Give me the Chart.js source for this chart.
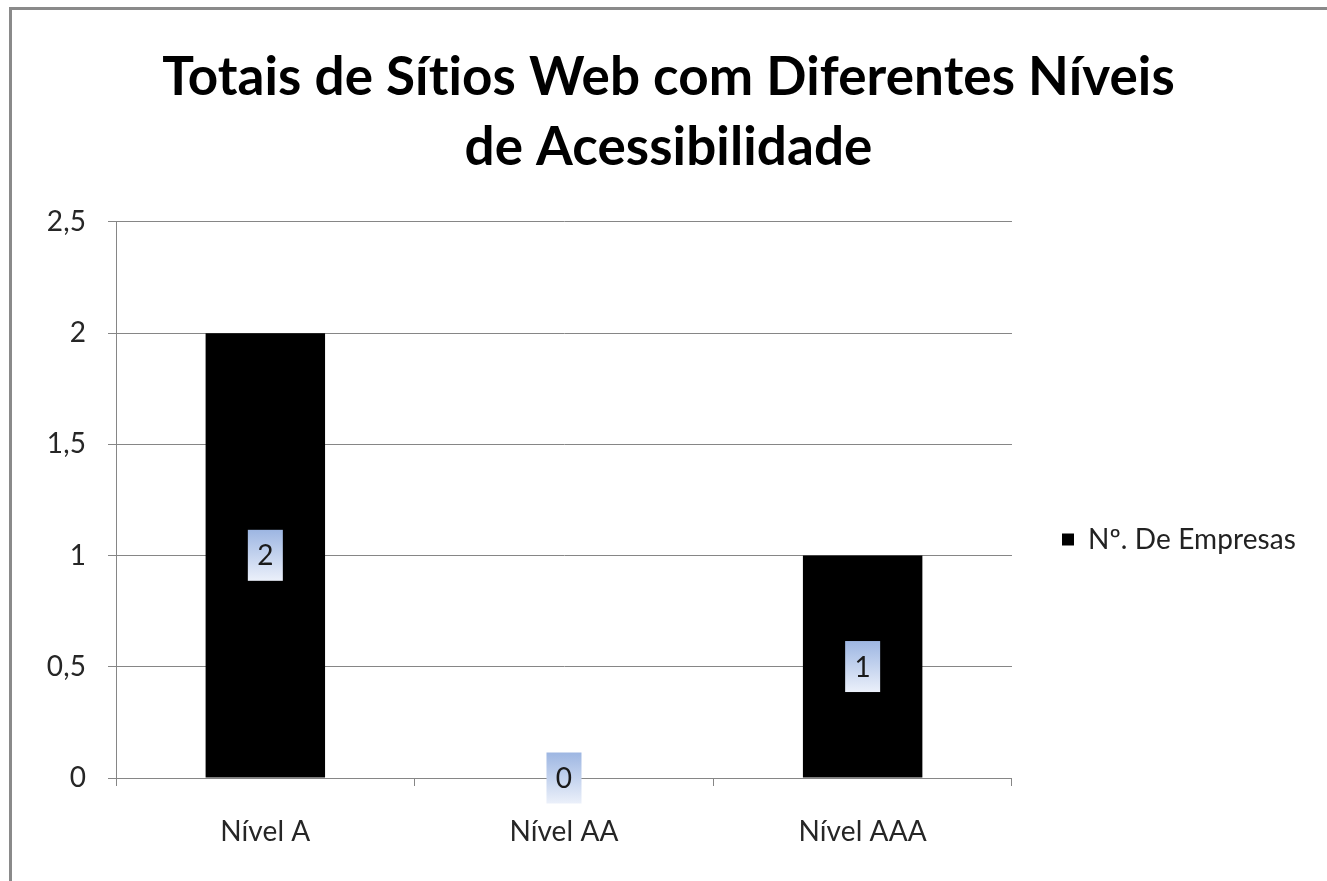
<!DOCTYPE html>
<html><head><meta charset="utf-8">
<script src="https://cdn.jsdelivr.net/npm/chart.js@4.4.0/dist/chart.umd.min.js"></script>
<style>
html,body{margin:0;padding:0;background:#fff;overflow:hidden;}
#wrap{position:relative;width:1327px;height:881px;}
#frame{position:absolute;left:9px;top:7px;right:-5px;bottom:-5px;border-top:3px solid #8a8a8a;border-left:3px solid #8a8a8a;pointer-events:none;}
canvas{position:absolute;left:0;top:0;}
</style></head>
<body><div id="wrap"><canvas id="c" width="1327" height="881"></canvas><div id="frame"></div></div>
<script>
const categories = ['Nível A', 'Nível AA', 'Nível AAA'];
const seriesName = 'Nº. De Empresas';
const seriesValues = [2, 0, 1];
const yTickValues = [0, 0.5, 1, 1.5, 2, 2.5];
const yTickLabels = ['0', '0,5', '1', '1,5', '2', '2,5'];
const titleLines = ['Totais de Sítios Web com Diferentes Níveis', 'de Acessibilidade'];

const FONT = 'Lato';
const GRID = '#868686';

const noLigatures = {
  id: 'noLigatures',
  beforeUpdate(chart) { chart.ctx.letterSpacing = '0.1px'; },
  beforeDraw(chart) { chart.ctx.letterSpacing = '0.1px'; }
};

// let the title centre on the whole chart width (the legend reserve sits on the right)
const titleSpan = {
  id: 'titleSpan',
  afterLayout(chart) {
    const t = chart.titleBlock;
    if (t) { t.left = 12; t.right = chart.width - 2; t.width = t.right - t.left; }
  }
};

const dataLabelPlugin = {
  id: 'dataLabelBoxes',
  afterDatasetsDraw(chart) {
    const ctx = chart.ctx;
    const meta = chart.getDatasetMeta(0);
    const ds = chart.data.datasets[0];
    meta.data.forEach((bar, i) => {
      const p = bar.getProps(['x', 'y', 'base'], true);
      const cx = p.x, cy = (p.y + p.base) / 2;
      const w = 35, h = 51;
      const g = ctx.createLinearGradient(0, cy - h / 2, 0, cy + h / 2);
      g.addColorStop(0, '#9db6e2');
      g.addColorStop(1, '#ebf0fa');
      ctx.save();
      ctx.fillStyle = g;
      ctx.fillRect(cx - w / 2, cy - h / 2, w, h);
      ctx.fillStyle = '#1a1a1a';
      ctx.font = '28px ' + FONT;
      ctx.textAlign = 'center';
      ctx.textBaseline = 'middle';
      ctx.fillText(String(ds.data[i]), cx, cy + 1);
      ctx.restore();
    });
  }
};

new Chart(document.getElementById('c'), {
  type: 'bar',
  data: {
    labels: categories,
    datasets: [{
      label: seriesName,
      data: seriesValues,
      backgroundColor: '#000000',
      borderWidth: 0,
      barPercentage: 0.4,
      categoryPercentage: 1.0
    }]
  },
  options: {
    responsive: false,
    animation: false,
    devicePixelRatio: 1,
    layout: { padding: { left: 12, top: 10, right: 21, bottom: 0 } },
    plugins: {
      title: {
        display: true,
        text: titleLines,
        color: '#000',
        font: { family: FONT, size: 53, weight: 'bold', lineHeight: 1.32 },
        padding: { top: 33, bottom: 39 }
      },
      legend: {
        position: 'right',
        align: 'center',
        title: { display: true, text: '', font: { size: 12, lineHeight: 1 }, padding: { top: 0, bottom: 176 } },
        labels: {
          boxWidth: 12,
          boxHeight: 12,
          padding: 50,
          color: '#222',
          font: { family: FONT, size: 28 }
        }
      },
      tooltip: { enabled: false }
    },
    scales: {
      x: {
        offset: true,
        grid: { offset: true, drawOnChartArea: false, drawTicks: true, tickLength: 8, color: GRID, lineWidth: 1 },
        border: { display: true, color: GRID, width: 1 },
        ticks: { color: '#262626', font: { family: FONT, size: 28 }, padding: 29 },
        afterFit(s) { s.height = 103; }
      },
      y: {
        min: 0,
        max: 2.5,
        afterBuildTicks(s) { s.ticks = yTickValues.map(v => ({ value: v })); },
        grid: { drawOnChartArea: true, drawTicks: true, tickLength: 8, color: GRID, lineWidth: 1 },
        border: { display: true, color: GRID, width: 1 },
        ticks: {
          color: '#262626',
          font: { family: FONT, size: 28 },
          padding: 22,
          callback(v) { const i = yTickValues.indexOf(v); return i >= 0 ? yTickLabels[i] : ''; }
        },
        afterFit(s) { s.width = 104; }
      }
    }
  },
  plugins: [noLigatures, titleSpan, dataLabelPlugin]
});
</script>
</body></html>
